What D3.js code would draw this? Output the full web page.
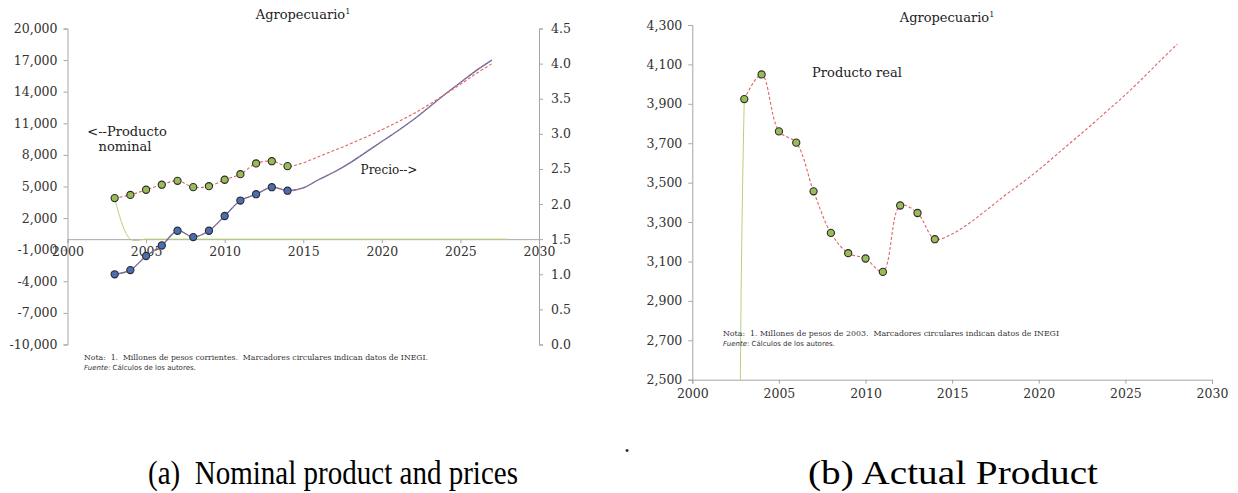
<!DOCTYPE html>
<html>
<head>
<meta charset="utf-8">
<script src="https://cdn.jsdelivr.net/npm/d3@7"></script>
<style>
  body { margin: 0; background: #fff; }
  svg { display: block; }
  .tick text { font-family: "DejaVu Serif", serif; font-size: 12.5px; fill: #333; }
  .domain, .tick line { stroke: #a6a6a6; }
  .note { white-space: pre; }
</style>
</head>
<body>
<script>
// observed years (INEGI data)
var years = [2003, 2004, 2005, 2006, 2007, 2008, 2009, 2010, 2011, 2012, 2013, 2014];
var nominal = [3900, 4200, 4690, 5170, 5540, 4940, 5030, 5640, 6170, 7190, 7400, 6930];
var price = [1.00, 1.06, 1.26, 1.41, 1.62, 1.53, 1.62, 1.83, 2.05, 2.14, 2.24, 2.19];
var real = [3924, 4049, 3760, 3703, 3456, 3245, 3142, 3115, 3047, 3384, 3346, 3213];

// projections
var projYearsA = [2015, 2016, 2017, 2018, 2019, 2020, 2021, 2022, 2023, 2024, 2025, 2026, 2027];
var nominalProj = [7250, 7850, 8450, 9050, 9700, 10380, 11120, 11900, 12780, 13720, 14700, 15720, 16650];
var priceProj = [2.23, 2.35, 2.46, 2.59, 2.74, 2.89, 3.04, 3.20, 3.38, 3.56, 3.73, 3.90, 4.05];
var projYearsB = [2015, 2016, 2017, 2018, 2019, 2020, 2021, 2022, 2023, 2024, 2025, 2026, 2027, 2028];
var realProj = [3240, 3295, 3362, 3432, 3497, 3565, 3640, 3715, 3790, 3868, 3946, 4030, 4118, 4203];

// thin raw series (drops to zero after the first year)
var rawYears = [2003, 2004, 2005, 2006, 2007, 2008, 2009, 2010, 2011, 2012, 2013, 2014, 2015,
  2016, 2017, 2018, 2019, 2020, 2021, 2022, 2023, 2024, 2025, 2026, 2027, 2028];
var nominalRaw = [3900, 0, 0, 0, 0, 0, 0, 0, 0, 0, 0, 0, 0, 0, 0, 0, 0, 0, 0, 0, 0, 0, 0, 0, 0, 0];
var realRaw = [3924, 0, 0, 0, 0, 0, 0, 0, 0, 0, 0, 0, 0, 0, 0, 0, 0, 0, 0, 0, 0, 0, 0, 0, 0, 0];

// tick labels
var xTicks = [2000, 2005, 2010, 2015, 2020, 2025, 2030];
var nominalTicks = [-10000, -7000, -4000, -1000, 2000, 5000, 8000, 11000, 14000, 17000, 20000];
var priceTicks = [0, 0.5, 1, 1.5, 2, 2.5, 3, 3.5, 4, 4.5];
var realTicks = [2500, 2700, 2900, 3100, 3300, 3500, 3700, 3900, 4100, 4300];

var RED = '#e06666', BLUE = '#4a6db3', GREEN = '#9bbb59', THIN = '#b4d27a';

// plain hyphen for negatives, as in the original
var fmt = d3.formatLocale({ decimal: '.', thousands: ',', grouping: [3], currency: ['$', ''], minus: '-' });

var svg = d3.select('body').append('svg')
  .attr('width', 1238)
  .attr('height', 493);

function pairs(xs, ys) {
  return xs.map(function(x, i) { return [x, ys[i]]; });
}

function makeLine(x, y) {
  return d3.line()
    .x(function(d) { return x(d[0]); })
    .y(function(d) { return y(d[1]); })
    .curve(d3.curveCatmullRom.alpha(0.5));
}

function clip(id, x0, y0, x1, y1) {
  svg.append('clipPath').attr('id', id)
    .append('rect').attr('x', x0).attr('y', y0)
    .attr('width', x1 - x0).attr('height', y1 - y0);
}

function dots(g, data, x, y, fill) {
  g.selectAll(null).data(data).enter().append('circle')
    .attr('cx', function(d) { return x(d[0]); })
    .attr('cy', function(d) { return y(d[1]); })
    .attr('r', 3.6)
    .attr('fill', fill)
    .attr('stroke', '#2b2b2b')
    .attr('stroke-width', 1.1);
}

function title(cx, y) {
  var t = svg.append('text')
    .attr('x', cx).attr('y', y)
    .attr('text-anchor', 'middle')
    .style('font-family', '"DejaVu Serif", serif')
    .style('font-size', '13px')
    .attr('fill', '#222');
  t.append('tspan').text('Agropecuario');
  t.append('tspan').text('1').attr('dy', -5).style('font-size', '8px');
}

function label(x, y, txt, size, anchor) {
  svg.append('text')
    .attr('x', x).attr('y', y)
    .attr('text-anchor', anchor || 'start')
    .style('font-family', '"DejaVu Serif", serif')
    .style('font-size', size + 'px')
    .attr('fill', '#222')
    .text(txt);
}

function notes(x, y, nota, len) {
  svg.append('text')
    .attr('class', 'note')
    .attr('x', x).attr('y', y)
    .attr('textLength', len).attr('lengthAdjust', 'spacingAndGlyphs')
    .style('font-family', '"DejaVu Serif", serif')
    .style('font-size', '8px')
    .attr('fill', '#333')
    .text(nota);
  var f = svg.append('text')
    .attr('x', x).attr('y', y + 10)
    .style('font-family', '"DejaVu Sans", sans-serif')
    .style('font-size', '7px')
    .attr('fill', '#333');
  f.append('tspan').text('Fuente').style('font-style', 'italic');
  f.append('tspan').text(': Cálculos de los autores.');
}

// ---------- (a) nominal product and prices ----------
var xA = d3.scaleLinear().domain([2000, 2030]).range([67.5, 539]);
var yA = d3.scaleLinear().domain([-10000, 20000]).range([344.5, 28.5]);
var yP = d3.scaleLinear().domain([0, 4.5]).range([344.5, 28.5]);

svg.append('g')
  .attr('transform', 'translate(' + xA(2000) + ',0)')
  .call(d3.axisLeft(yA).tickValues(nominalTicks).tickSizeOuter(0).tickSize(4).tickPadding(6)
    .tickFormat(fmt.format(',')));

svg.append('g')
  .attr('transform', 'translate(' + xA(2030) + ',0)')
  .call(d3.axisRight(yP).tickValues(priceTicks).tickSizeOuter(0).tickSize(4).tickPadding(8)
    .tickFormat(fmt.format('.1f')));

svg.append('g')
  .attr('transform', 'translate(0,' + yA(0) + ')')
  .call(d3.axisBottom(xA).tickValues(xTicks).tickSizeOuter(0).tickSize(4).tickPadding(4)
    .tickFormat(fmt.format('d')));

clip('clipA', xA(2000), yA(20000), xA(2030), yA(-10000));
var gA = svg.append('g').attr('clip-path', 'url(#clipA)');

gA.append('path')
  .datum(pairs(rawYears, nominalRaw))
  .attr('d', makeLine(xA, yA))
  .attr('fill', 'none').attr('stroke', THIN).attr('stroke-width', 1);

var priceAll = pairs(years.concat(projYearsA), price.concat(priceProj));
gA.append('path')
  .datum(priceAll)
  .attr('d', makeLine(xA, yP))
  .attr('fill', 'none').attr('stroke', BLUE).attr('stroke-width', 1.3);
gA.append('path')
  .datum(priceAll)
  .attr('d', makeLine(xA, yP))
  .attr('fill', 'none').attr('stroke', RED).attr('stroke-width', 1)
  .attr('stroke-dasharray', '3,2');

gA.append('path')
  .datum(pairs(years.concat(projYearsA), nominal.concat(nominalProj)))
  .attr('d', makeLine(xA, yA))
  .attr('fill', 'none').attr('stroke', RED).attr('stroke-width', 1.1)
  .attr('stroke-dasharray', '3,2');

dots(svg, pairs(years, nominal), xA, yA, GREEN);
dots(svg, pairs(years, price), xA, yP, BLUE);

title(303, 19);
label(127, 136, '<--Producto', 13, 'middle');
label(125, 151, 'nominal', 13, 'middle');
label(389, 174, 'Precio-->', 12, 'middle');
notes(84, 360, 'Nota:  1.  Millones de pesos corrientes.  Marcadores circulares indican datos de INEGI.', 344);

// ---------- (b) actual product ----------
var xB = d3.scaleLinear().domain([2000, 2030]).range([692.3, 1212]);
var yB = d3.scaleLinear().domain([2500, 4300]).range([379.7, 25]);

svg.append('g')
  .attr('transform', 'translate(' + xB(2000) + ',0)')
  .call(d3.axisLeft(yB).tickValues(realTicks).tickSizeOuter(0).tickSize(4).tickPadding(6)
    .tickFormat(fmt.format(',')));

svg.append('g')
  .attr('transform', 'translate(0,' + yB(2500) + ')')
  .call(d3.axisBottom(xB).tickValues(xTicks).tickSizeOuter(0).tickSize(4).tickPadding(5)
    .tickFormat(fmt.format('d')));

clip('clipB', xB(2000), yB(4300), xB(2030), yB(2500));
var gB = svg.append('g').attr('clip-path', 'url(#clipB)');

gB.append('path')
  .datum(pairs(rawYears, realRaw))
  .attr('d', makeLine(xB, yB))
  .attr('fill', 'none').attr('stroke', THIN).attr('stroke-width', 1);

gB.append('path')
  .datum(pairs(years.concat(projYearsB), real.concat(realProj)))
  .attr('d', makeLine(xB, yB))
  .attr('fill', 'none').attr('stroke', RED).attr('stroke-width', 1.1)
  .attr('stroke-dasharray', '3,2');

dots(svg, pairs(years, real), xB, yB, GREEN);

title(947, 22);
label(857, 77, 'Producto real', 13, 'middle');
notes(723, 336, 'Nota:  1. Millones de pesos de 2003.  Marcadores circulares indican datos de INEGI', 336);

// ---------- captions ----------
function caption(x, txt, len) {
  svg.append('text')
    .attr('class', 'note')
    .attr('x', x).attr('y', 484)
    .attr('textLength', len).attr('lengthAdjust', 'spacingAndGlyphs')
    .style('font-family', '"Liberation Serif", serif')
    .style('font-size', '34px')
    .attr('fill', '#000')
    .text(txt);
}
caption(148, '(a)  Nominal product and prices', 370);
caption(808, '(b) Actual Product', 290);
label(627, 452, '.', 22, 'middle');
</script>
</body>
</html>
